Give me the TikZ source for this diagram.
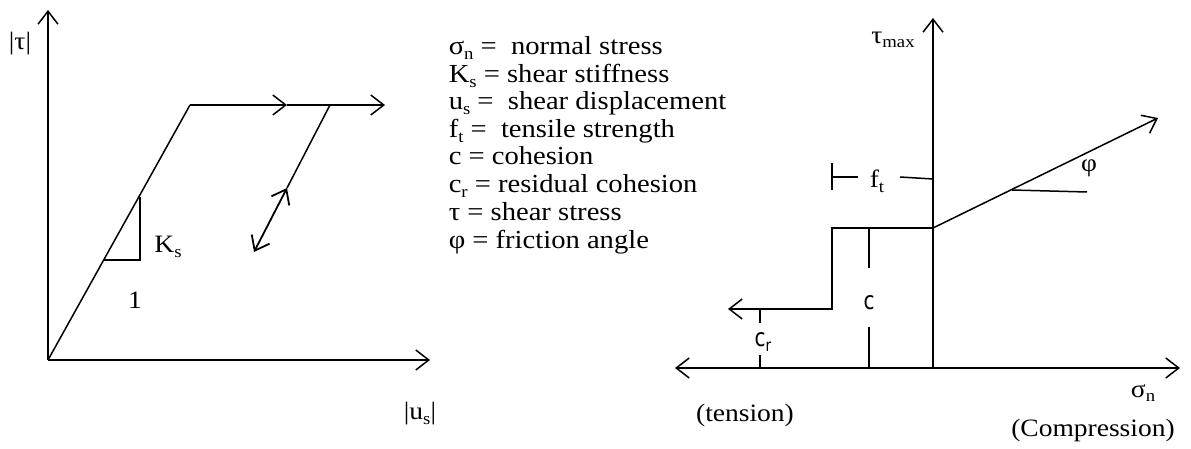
\documentclass[tikz,border=0pt]{standalone}
\usepackage{fontspec}
\setmainfont{Liberation Serif}[FakeStretch=1.1]
\newfontfamily\cfont{DejaVu Sans}[FakeStretch=0.8]
\usetikzlibrary{arrows.meta}
\newcommand{\lowsub}[1]{\raisebox{-0.4ex}{\fontsize{17}{17}\selectfont #1}}
\begin{document}
\begin{tikzpicture}[x=1pt,y=-1pt, line width=1.5pt,
  >={Straight Barb[length=13pt,width=20pt]},
  lbl/.style={inner sep=0pt, font=\fontsize{25}{28}\selectfont},
  leg/.style={anchor=base west, inner sep=0pt, font=\fontsize{26}{28}\selectfont},
  cl/.style={inner sep=0pt, font=\cfont\fontsize{25}{26}\selectfont}]
\useasboundingbox[fill=white] (0,0) rectangle (1191,449);
% ---------- left diagram ----------
\coordinate (O1) at (48,360);
\coordinate (Ytop) at (48,10);
\coordinate (Xend) at (430,360);
\coordinate (Y1) at (190,105);
\coordinate (Mid) at (287,105);
\coordinate (Hend) at (385,105);
\coordinate (U1) at (330,105);
\coordinate (U2) at (287,188);
\coordinate (U3) at (254,252);
\coordinate (T1) at (140,197);
\coordinate (T2) at (140,260);
\coordinate (T3) at (104,260);
\draw[->] (O1) -- (Ytop);
\draw[->] (O1) -- (Xend);
\draw (O1) -- (Y1);
\draw[->] (Y1) -- (Mid);
\draw[->] (Mid) -- (Hend);
\draw (U1) -- (U2);
\draw[<->, line width=1.8pt] (U3) -- (U2);
\draw (T1) -- (T2) -- (T3);
\node[lbl] (tau) at (20,44) {|τ|};
\node[lbl] (Ks) at (168,247) {K\lowsub{s}};
\node[lbl] (one) at (135,300) {1};
\node[lbl] (us) at (420,414) {|u\lowsub{s}|};
% ---------- legend ----------
\node[leg] (leg1) at (448,55) {σ\lowsub{n} = \ normal stress};
\node[leg] (leg2) at (448,83) {K\lowsub{s} = shear stiffness};
\node[leg] (leg3) at (448,110) {u\lowsub{s} = \ shear displacement};
\node[leg] (leg4) at (448,138) {f\lowsub{t} = \ tensile strength};
\node[leg] (leg5) at (448,165) {c = cohesion};
\node[leg] (leg6) at (448,193) {c\lowsub{r} = residual cohesion};
\node[leg] (leg7) at (448,221) {τ = shear stress};
\node[leg] (leg8) at (448,248) {φ = friction angle};
% ---------- right diagram ----------
\coordinate (O2) at (933,368);
\coordinate (Vtop) at (933,18);
\coordinate (Lend) at (675,368);
\coordinate (Rend) at (1180,368);
\coordinate (P1) at (933,228);
\coordinate (P2) at (832,228);
\coordinate (P3) at (832,309);
\coordinate (P4) at (728,309);
\coordinate (Q) at (1158,118);
\coordinate (F1) at (1012,190);
\coordinate (F2) at (1087,192);
\coordinate (B1) at (832,163);
\coordinate (B2) at (832,190);
\coordinate (B3) at (832,177);
\coordinate (B4) at (858,177);
\coordinate (B5) at (900,177);
\coordinate (B6) at (933,179);
\coordinate (C1) at (869,228);
\coordinate (C2) at (869,268);
\coordinate (C3) at (869,327);
\coordinate (C4) at (869,368);
\coordinate (R1) at (760,309);
\coordinate (R2) at (760,323);
\coordinate (R3) at (760,355);
\coordinate (R4) at (760,368);
\draw[->] (O2) -- (Vtop);
\draw[->] (O2) -- (Lend);
\draw[->] (O2) -- (Rend);
\draw[->] (P1) -- (P2) -- (P3) -- (P4);
\draw[->] (P1) -- (Q);
\draw (F1) -- (F2);
\draw (B1) -- (B2);
\draw (B3) -- (B4);
\draw (B5) -- (B6);
\draw (C1) -- (C2);
\draw (C3) -- (C4);
\draw (R1) -- (R2);
\draw (R3) -- (R4);
\node[lbl] (taumax) at (893,40) {τ\lowsub{max}};
\node[lbl] (ft) at (877,181) {f\lowsub{t}};
\node[lbl] (phi) at (1089,168) {φ};
\node[cl] (c) at (869,303) {c};
\node[cl] (cr) at (763,342) {c\lowsub{r}};
\node[lbl] (sn) at (1143,393) {σ\lowsub{n}};
\node[lbl] (tens) at (745,415) {(tension)};
\node[lbl] (comp) at (1093,430) {(Compression)};
\end{tikzpicture}
\end{document}
